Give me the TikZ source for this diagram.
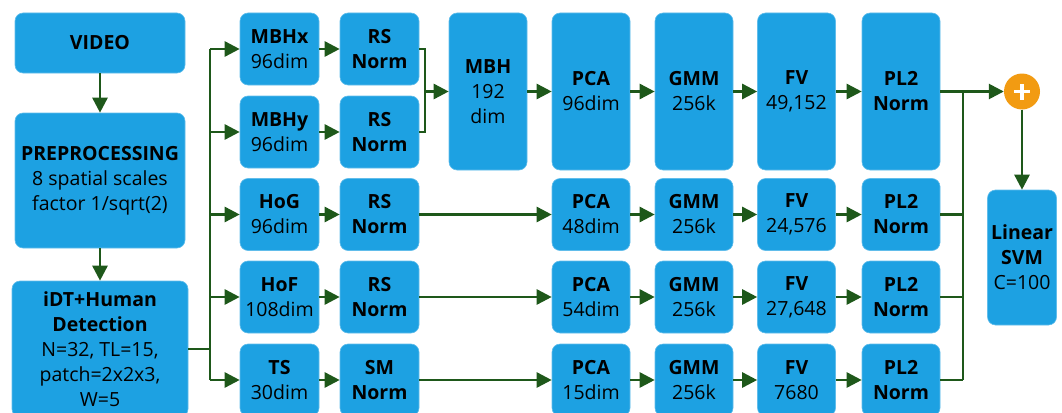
\documentclass[tikz,border=0pt]{standalone}
\usepackage{fontspec}
\setmainfont{Open Sans}
\usetikzlibrary{arrows.meta}
\definecolor{boxblue}{RGB}{29,161,226}
\definecolor{flowgreen}{RGB}{30,88,26}
\definecolor{sumorange}{RGB}{242,155,18}
\tikzset{
  blk/.style={fill=boxblue, draw=boxblue!70!white, line width=0.6pt,
    rounded corners=8pt, align=center, inner sep=0pt, text=black,
    font=\fontsize{19.5}{25}\selectfont},
  small/.style={minimum width=79pt, minimum height=72pt},
  tall/.style={minimum width=78pt, minimum height=157pt},
  flow/.style={draw=flowgreen, line width=2.6pt},
  arr/.style={flow, -{Triangle[length=15pt,width=15pt]}},
}
\begin{document}
\begin{tikzpicture}[x=1pt, y=-1pt]
\useasboundingbox (0,0) rectangle (1062,412);

% input chain
\node[blk, minimum width=170pt, minimum height=60pt] (video) at (100,43) {\textbf{VIDEO}};
\node[blk, minimum width=170pt, minimum height=135pt] (prep) at (100,180.5)
  {\textbf{PREPROCESSING}\\8 spatial scales\\factor 1/sqrt(2)};
\node[blk, minimum width=176pt, minimum height=136pt] (idt) at (100,349)
  {\textbf{iDT+Human}\\\textbf{Detection}\\N=32, TL=15,\\patch=2x2x3,\\W=5};

% descriptors
\node[blk, small] (mbhx) at (279.5,49)  {\textbf{MBHx}\\96dim};
\node[blk, small] (mbhy) at (279.5,132)  {\textbf{MBHy}\\96dim};
\node[blk, small] (hog)  at (279.5,214.5) {\textbf{HoG}\\96dim};
\node[blk, small] (hof)  at (279.5,297) {\textbf{HoF}\\108dim};
\node[blk, small] (ts)   at (279.5,380) {\textbf{TS}\\30dim};

% normalisation
\node[blk, small] (rsx) at (379.5,49)  {\textbf{RS}\\\textbf{Norm}};
\node[blk, small] (rsy) at (379.5,132)  {\textbf{RS}\\\textbf{Norm}};
\node[blk, small] (rsg) at (379.5,214.5) {\textbf{RS}\\\textbf{Norm}};
\node[blk, small] (rsf) at (379.5,297) {\textbf{RS}\\\textbf{Norm}};
\node[blk, small] (smt) at (379.5,380) {\textbf{SM}\\\textbf{Norm}};

% merged MBH branch
\node[blk, tall] (mbh)  at (488,91.5) {\textbf{MBH}\\192\\dim};
\node[blk, tall] (pcaa) at (591,91.5) {\textbf{PCA}\\96dim};
\node[blk, tall] (gmma) at (694,91.5) {\textbf{GMM}\\256k};
\node[blk, tall] (fva)  at (796.5,91.5) {\textbf{FV}\\49,152};
\node[blk, tall] (pl2a) at (901,91.5) {\textbf{PL2}\\\textbf{Norm}};

% HoG branch
\node[blk, small, minimum width=78pt] (pcab) at (591,214.5) {\textbf{PCA}\\48dim};
\node[blk, small, minimum width=78pt] (gmmb) at (694,214.5) {\textbf{GMM}\\256k};
\node[blk, small, minimum width=78pt] (fvb)  at (796.5,214.5) {\textbf{FV}\\24,576};
\node[blk, small, minimum width=78pt] (pl2b) at (901,214.5) {\textbf{PL2}\\\textbf{Norm}};

% HoF branch
\node[blk, small, minimum width=78pt] (pcac) at (591,297) {\textbf{PCA}\\54dim};
\node[blk, small, minimum width=78pt] (gmmc) at (694,297) {\textbf{GMM}\\256k};
\node[blk, small, minimum width=78pt] (fvc)  at (796.5,297) {\textbf{FV}\\27,648};
\node[blk, small, minimum width=78pt] (pl2c) at (901,297) {\textbf{PL2}\\\textbf{Norm}};

% TS branch
\node[blk, small, minimum width=78pt] (pcad) at (591,380) {\textbf{PCA}\\15dim};
\node[blk, small, minimum width=78pt] (gmmd) at (694,380) {\textbf{GMM}\\256k};
\node[blk, small, minimum width=78pt] (fvd)  at (796.5,380) {\textbf{FV}\\7680};
\node[blk, small, minimum width=78pt] (pl2d) at (901,380) {\textbf{PL2}\\\textbf{Norm}};

% fusion and classifier
\node[circle, fill=sumorange, minimum size=36pt, inner sep=0pt] (sum) at (1022,91.5) {};
\draw[white, line width=3.2pt] ([xshift=-8pt]sum.center) -- ([xshift=8pt]sum.center);
\draw[white, line width=3.2pt] ([yshift=-8pt]sum.center) -- ([yshift=8pt]sum.center);
\node[blk, minimum width=69pt, minimum height=135pt] (svm) at (1022,257.5)
  {\textbf{Linear}\\\textbf{SVM}\\C=100};

% routing points
\coordinate (trunkTop) at (210,49);
\coordinate (trunkBot) at (210,380);
\coordinate (mergeTop) at (425,49);
\coordinate (mergeBot) at (425,132);
\coordinate (sumTop) at (963,91.5);
\coordinate (sumBot) at (963,380);

% connectors
\draw[arr] (video) -- (prep);
\draw[arr] (prep) -- (idt);
\draw[flow] (idt.east) -- (idt.east -| trunkTop);
\draw[flow] (trunkTop) -- (trunkBot);
\foreach \n in {mbhx,mbhy,hog,hof,ts}
  \draw[arr] (\n.west -| trunkTop) -- (\n.west);

\draw[arr] (mbhx) -- (rsx);
\draw[arr] (mbhy) -- (rsy);
\draw[arr] (hog) -- (rsg);
\draw[arr] (hof) -- (rsf);
\draw[arr] (ts) -- (smt);

\draw[flow] (rsx.east) -- (mergeTop) -- (mergeBot) -- (rsy.east);
\draw[arr] (mbh.west -| mergeTop) -- (mbh.west);

\draw[arr] (rsg.east) -- (pcab.west);
\draw[arr] (rsf.east) -- (pcac.west);
\draw[arr] (smt.east) -- (pcad.west);

\foreach \r in {a,b,c,d}{
  \draw[arr] (pca\r) -- (gmm\r);
  \draw[arr] (gmm\r) -- (fv\r);
  \draw[arr] (fv\r) -- (pl2\r);
}
\draw[arr] (mbh) -- (pcaa);

\draw[arr] (pl2a.east) -- (sum.west);
\draw[flow] (sumTop) -- (sumBot);
\foreach \r in {b,c,d}
  \draw[flow] (pl2\r.east) -- (pl2\r.east -| sumTop);
\draw[arr] (sum) -- (svm);
\end{tikzpicture}
\end{document}
